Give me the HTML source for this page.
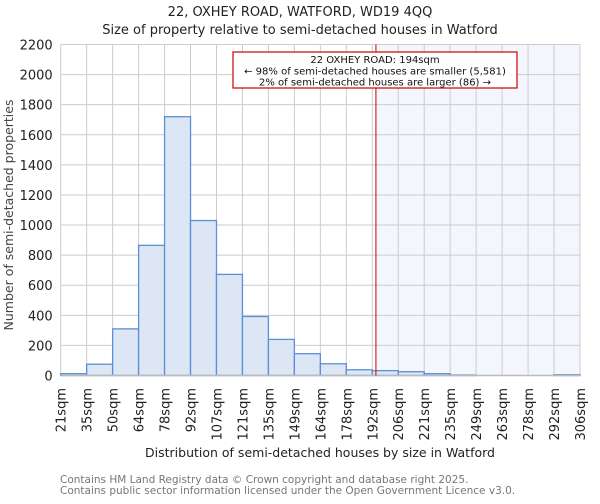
<!DOCTYPE html>
<html><head><meta charset="utf-8"><style>
body{margin:0;background:#fff;font-family:"DejaVu Sans","Liberation Sans",sans-serif;}
svg text{font-family:"DejaVu Sans","Liberation Sans",sans-serif;}
</style></head><body>
<svg id="c" width="600" height="500" viewBox="0 0 600 500" xmlns="http://www.w3.org/2000/svg">
<text x="300" y="16" text-anchor="middle" font-size="13" fill="#222">22, OXHEY ROAD, WATFORD, WD19 4QQ</text>
<text x="300" y="34" text-anchor="middle" font-size="13" fill="#222">Size of property relative to semi-detached houses in Watford</text>
<g id="plot"></g>
<text transform="translate(13,215) rotate(-90)" text-anchor="middle" font-size="12.5" fill="#444">Number of semi-detached properties</text>
<text x="320" y="457" text-anchor="middle" font-size="12.5" fill="#222">Distribution of semi-detached houses by size in Watford</text>
<text x="60" y="483" font-size="10.5" fill="#777">Contains HM Land Registry data © Crown copyright and database right 2025.</text>
<text x="60" y="494" font-size="10.5" fill="#777">Contains public sector information licensed under the Open Government Licence v3.0.</text>
</svg>
<script>
const binLabels=["21sqm","35sqm","50sqm","64sqm","78sqm","92sqm","107sqm","121sqm","135sqm","149sqm","164sqm","178sqm","192sqm","206sqm","221sqm","235sqm","249sqm","263sqm","278sqm","292sqm","306sqm"];
const counts=[12,75,310,865,1720,1030,672,392,240,145,78,38,32,25,12,3,0,0,0,5];
const yTicks=[0,200,400,600,800,1000,1200,1400,1600,1800,2000,2200];
const markerBin=12.14;
const annoLines=["22 OXHEY ROAD: 194sqm","← 98% of semi-detached houses are smaller (5,581)","2% of semi-detached houses are larger (86) →"];
const NS="http://www.w3.org/2000/svg";
const L=60.7,R=580,T=44.5,B=375.5,yMax=2200;
const nb=counts.length;
const x=i=>L+(R-L)*i/nb;
const y=v=>B-(B-T)*v/yMax;
const g=document.getElementById('plot');
function mk(t,a){const e=document.createElementNS(NS,t);for(const k in a)e.setAttribute(k,a[k]);g.appendChild(e);return e;}
const mx=x(markerBin);
let e=mk('rect',{x:mx,y:T,width:R-mx,height:B-T,fill:'#f3f6fd'});


yTicks.forEach(v=>{let l=mk('line',{x1:L,x2:R,y1:y(v),y2:y(v),stroke:'#cccccc','stroke-width':1});


let t=mk('text',{x:L-8,y:y(v)+5,'text-anchor':'end','font-size':13,fill:'#222'});t.textContent=v;

});
binLabels.forEach((s,i)=>{let l=mk('line',{x1:x(i),x2:x(i),y1:T,y2:B,stroke:'#cccccc','stroke-width':1});


let t=mk('text',{transform:`translate(${x(i)+5},388) rotate(-90)`,'text-anchor':'end','font-size':13,fill:'#222'});t.textContent=s;

});
counts.forEach((c,i)=>{let r=mk('rect',{x:x(i),y:y(c),width:x(i+1)-x(i),height:B-y(c),fill:'#dce6f4',stroke:'#5b8fd6','stroke-width':1.3});

});
e=mk('line',{x1:L,x2:R,y1:B,y2:B,stroke:'#bbbbbb','stroke-width':1.5});


e=mk('line',{x1:mx,x2:mx,y1:T,y2:B,stroke:'#cc0000','stroke-width':1});


e=mk('rect',{x:233,y:52,width:284,height:36,fill:'#fff',stroke:'#cc0000','stroke-width':1.2});


annoLines.forEach((s,i)=>{let t=mk('text',{x:375,y:63+i*11.3,'text-anchor':'middle','font-size':10,fill:'#111'});t.textContent=s;

});
</script>
</body></html>
